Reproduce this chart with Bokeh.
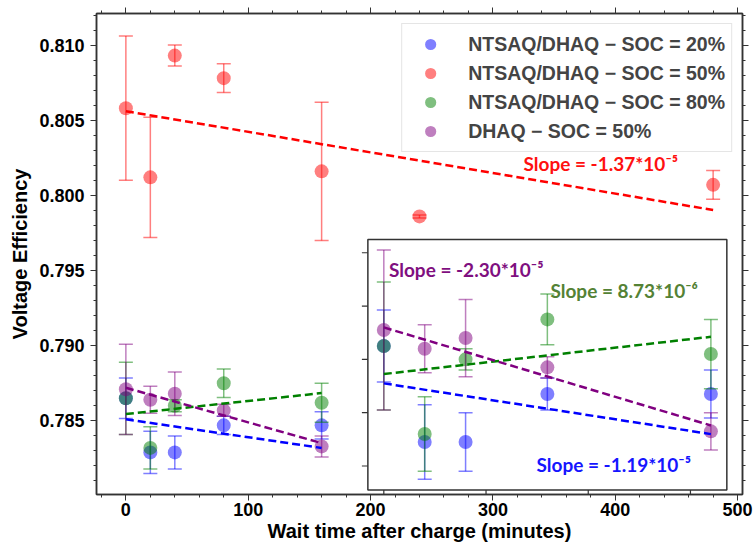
from bokeh.plotting import figure
from bokeh.models import (Range1d, SingleIntervalTicker, LinearAxis, CustomJSTickFormatter,
                          NumeralTickFormatter, Legend, LegendItem, Label)
from bokeh.embed import file_html
from bokeh.resources import INLINE

# ---------------- data ----------------
t_red = [0, 20, 40, 80, 160, 240, 480]
ve_red = [0.8058, 0.8012, 0.8093, 0.8078, 0.8016, 0.7986, 0.8007]
err_red = [0.0048, 0.0040, 0.0007, 0.00095, 0.0046, 0.0001, 0.00095]

t_low = [0, 20, 40, 80, 160]
ve_blue = [0.7865, 0.7829, 0.7829, 0.7847, 0.7847]
err_blue = [0.00135, 0.0014, 0.0011, 0.0006, 0.0009]
ve_green = [0.7865, 0.7832, 0.7860, 0.7875, 0.7862]
err_green = [0.0024, 0.0014, 0.0004, 0.00095, 0.0013]
ve_purple = [0.7871, 0.7864, 0.7868, 0.7857, 0.7833]
err_purple = [0.0030, 0.0009, 0.00145, 0.0004, 0.0007]

labels = ["NTSAQ/DHAQ \u2212 SOC = 20%", "NTSAQ/DHAQ \u2212 SOC = 50%",
          "NTSAQ/DHAQ \u2212 SOC = 80%", "DHAQ \u2212 SOC = 50%"]

# linear fits (slope from annotations, intercept)
slope_red, icpt_red = -1.37e-5, 0.8056
slope_blue, icpt_blue = -1.19e-5, 0.7851
slope_green, icpt_green = 8.73e-6, 0.78545
slope_purple, icpt_purple = -2.30e-5, 0.7872

slope_texts = ["Slope = -1.19*10\u207b\u2075", "Slope = -1.37*10\u207b\u2075",
               "Slope = 8.73*10\u207b\u2076", "Slope = -2.30*10\u207b\u2075"]

inset_xticks = [0, 50, 100, 150]
inset_yticks = [0.782, 0.784, 0.786, 0.788, 0.790]

# ---------------- styling ----------------
C_BLUE, C_RED, C_GREEN, C_PURPLE = "#0000ff", "#ff0000", "#008000", "#800080"
TXT_COLORS = ["#1515ff", "#ff1010", "#548235", "#7f0f7f"]
FONT = "Liberation Sans"

p = figure(width=756, height=547, x_range=Range1d(-24, 504), y_range=Range1d(0.7801, 0.8121),
           output_backend="svg", toolbar_location=None,
           min_border_left=96, min_border_right=14, min_border_top=13, min_border_bottom=53)
p.xgrid.visible = False
p.ygrid.visible = False
p.outline_line_color = "#333333"
p.outline_line_width = 1.5
p.background_fill_color = "white"
p.border_fill_color = "white"

xt = SingleIntervalTicker(interval=100, num_minor_ticks=5)
yt = SingleIntervalTicker(interval=0.005, num_minor_ticks=5)
p.xaxis.ticker = xt
p.yaxis.ticker = yt
p.yaxis.formatter = NumeralTickFormatter(format="0.000")
p.xaxis.axis_label = "Wait time after charge (minutes)"
p.yaxis.axis_label = "Voltage Efficiency"
for ax in (p.xaxis[0], p.yaxis[0]):
    ax.axis_label_text_font = FONT
    ax.axis_label_text_font_style = "bold"
    ax.axis_label_text_font_size = "20px"
    ax.major_label_text_font = FONT
    ax.major_label_text_font_style = "bold"
    ax.major_label_text_font_size = "18px"
    ax.major_label_text_color = "black"
    ax.axis_label_text_color = "black"
p.xaxis.major_label_standoff = 2
p.xaxis.axis_label_standoff = 1
p.yaxis.major_label_standoff = 6
p.yaxis.axis_label_standoff = 5

blank = CustomJSTickFormatter(code="return ''")
for side, tk in (("above", xt), ("right", yt)):
    ax = LinearAxis(ticker=tk, formatter=blank, major_label_standoff=0)
    p.add_layout(ax, side)
for ax in p.axis:
    ax.axis_line_color = "#333333"
    ax.axis_line_width = 1.5
    ax.major_tick_line_color = "#333333"
    ax.minor_tick_line_color = "#333333"
    ax.major_tick_in = 0
    ax.major_tick_out = 6
    ax.minor_tick_in = 0
    ax.minor_tick_out = 3


def draw_series(api, x, y, e, color):
    lo = [v - d for v, d in zip(y, e)]
    hi = [v + d for v, d in zip(y, e)]
    api.segment(x0=x, y0=lo, x1=x, y1=hi, line_color=color, line_alpha=0.5, line_width=1.5)
    api.scatter(x=x, y=lo, marker="dash", size=14, line_color=color, line_alpha=0.5, line_width=1.5)
    api.scatter(x=x, y=hi, marker="dash", size=14, line_color=color, line_alpha=0.5, line_width=1.5)
    return api.scatter(x=x, y=y, size=14, marker="circle", fill_color=color, fill_alpha=0.5,
                       line_color=color, line_alpha=0.0)


def draw_fit(api, x_end, slope, icpt, color):
    xs = [0, x_end]
    ys = [icpt + slope * v for v in xs]
    api.line(x=xs, y=ys, line_color=color, line_width=2.5, line_dash="8 4")


main_series = [(t_low, ve_blue, err_blue, C_BLUE), (t_red, ve_red, err_red, C_RED),
               (t_low, ve_green, err_green, C_GREEN), (t_low, ve_purple, err_purple, C_PURPLE)]
main_rends = [draw_series(p, *s) for s in main_series]
fits = [(t_low[-1], slope_blue, icpt_blue, C_BLUE), (t_red[-1], slope_red, icpt_red, C_RED),
        (t_low[-1], slope_green, icpt_green, C_GREEN), (t_low[-1], slope_purple, icpt_purple, C_PURPLE)]
for f in fits:
    draw_fit(p, *f)

# ---------------- inset (zoom on the lower three series) ----------------
ins_x_src = Range1d(-7.8, 167.8)
ins_y_src = Range1d(0.7811, 0.7905)
ins_x_tgt = Range1d(197.8, 491.2)
ins_y_tgt = Range1d(0.7804, 0.79707)
ins_w_px, ins_h_px = 360.0, 250.0
p.quad(left=[ins_x_tgt.start], right=[ins_x_tgt.end], bottom=[ins_y_tgt.start], top=[ins_y_tgt.end],
       fill_color="white", line_color="#333333", line_width=1.5)
sub = p.subplot(x_source=ins_x_src, y_source=ins_y_src, x_target=ins_x_tgt, y_target=ins_y_tgt)

tick_len = 6.0
dx = tick_len * (ins_x_src.end - ins_x_src.start) / ins_w_px
dy = tick_len * (ins_y_src.end - ins_y_src.start) / ins_h_px
sub.segment(x0=[ins_x_src.start] * len(inset_yticks), y0=inset_yticks,
            x1=[ins_x_src.start - dx] * len(inset_yticks), y1=inset_yticks,
            line_color="#333333", line_width=1.2)
sub.segment(x0=inset_xticks, y0=[ins_y_src.start] * len(inset_xticks),
            x1=inset_xticks, y1=[ins_y_src.start - dy] * len(inset_xticks),
            line_color="#333333", line_width=1.2)

for s in (main_series[0], main_series[2], main_series[3]):
    draw_series(sub, *s)
for f in (fits[0], fits[2], fits[3]):
    draw_fit(sub, *f)

# ---------------- legend ----------------
legend = Legend(items=[LegendItem(label=l, renderers=[r]) for l, r in zip(labels, main_rends)],
                location="top_right", margin=10, padding=6, spacing=1,
                glyph_width=44, glyph_height=28, label_height=28, label_standoff=16,
                label_text_font=FONT, label_text_font_style="bold", label_text_font_size="19.5px",
                border_line_color="#cccccc", border_line_width=1.2,
                background_fill_color="white", background_fill_alpha=0.85)
p.add_layout(legend)

# ---------------- slope annotations ----------------
slope_pos = [(335.6, 0.78207), (325, 0.80213), (347, 0.79367), (215, 0.79507)]
for (lx, ly), txt, col in zip(slope_pos, slope_texts, TXT_COLORS):
    p.add_layout(Label(x=lx, y=ly, text=txt, text_font="Lato", text_font_style="bold",
                       text_font_size="19px", text_color=col, text_baseline="middle"))

p.add_layout(Label(x=-85, y=0.8124, text="a)", text_font="Liberation Serif",
                   text_font_size="28px", text_color="black", text_baseline="alphabetic"))

open("out.html", "w").write(file_html(p, INLINE))
